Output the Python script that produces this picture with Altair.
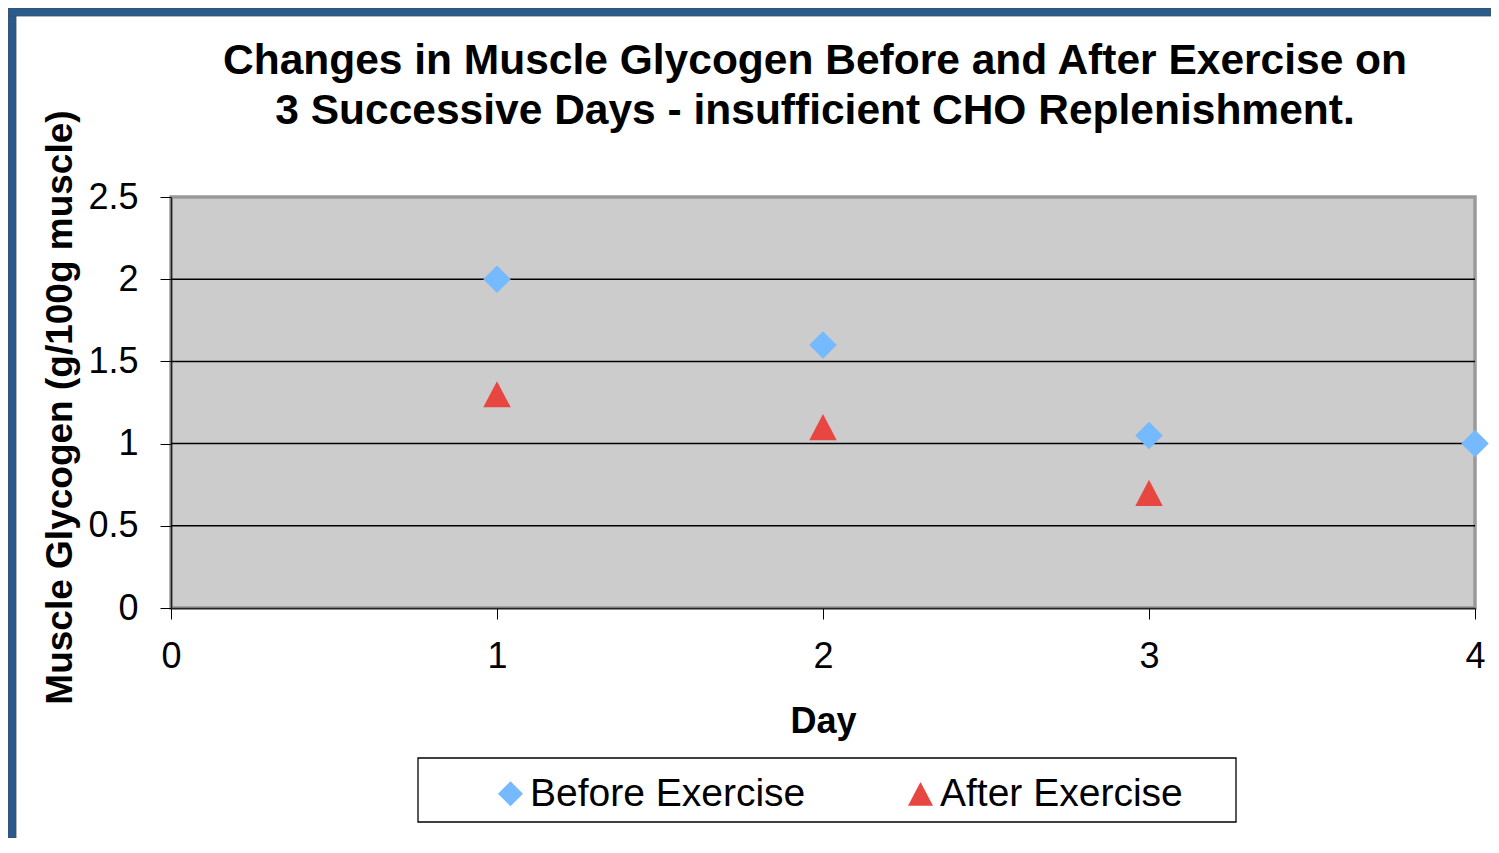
import altair as alt
import pandas as pd

# ---- data ----
days_before = [1, 2, 3, 4]
glycogen_before = [2.0, 1.6, 1.05, 1.0]
days_after = [1, 2, 3]
glycogen_after = [1.3, 1.1, 0.7]
series_names = ["Before Exercise", "After Exercise"]
series_colors = ["#75B9FE", "#E84640"]
x_ticks = [0, 1, 2, 3, 4]
y_ticks = [0, 0.5, 1, 1.5, 2, 2.5]
grid_values = [0.5, 1, 1.5, 2]

title_lines = [
    "Changes in Muscle Glycogen Before and After Exercise on",
    "3 Successive Days - insufficient CHO Replenishment.",
]
x_title = "Day"
y_title = "Muscle Glycogen (g/100g muscle)"

df = pd.DataFrame({
    "Day": days_before + days_after,
    "Glycogen": glycogen_before + glycogen_after,
    "Series": [series_names[0]] * len(days_before) + [series_names[1]] * len(days_after),
})
grid_df = pd.DataFrame({"g": grid_values})
one = pd.DataFrame({"a": [0]})

FONT = "Liberation Sans"
W, H = 1304, 411
PAD_L, PAD_T, PAD_R, PAD_B = 163, 189, 16, 230
TRI = "M0,-0.95L1,0.95L-1,0.95Z"
FRAME = "#2A5B8F"

x_scale = alt.Scale(domain=[0, 4], nice=False, zero=False)
y_scale = alt.Scale(domain=[0, 2.5], nice=False)

common_axis = dict(
    domainColor="#222222", domainWidth=1.5,
    tickColor="black", tickSize=11, tickWidth=1,
    labelFont=FONT, labelFontSize=36, labelColor="black",
    titleFont=FONT, titleFontWeight="bold", titleColor="black",
    grid=False, labelOverlap=False, labelBound=False, labelFlush=False,
)
y_axis = alt.Axis(values=y_ticks, format=".1~f", title=y_title, titleFontSize=37,
                  titleY=210, labelPadding=22, titlePadding=8, **common_axis)
x_axis = alt.Axis(values=x_ticks, format="d", title=x_title, titleFontSize=36,
                  labelPadding=20, titlePadding=30, **common_axis)

legend = alt.Legend(
    title=None, orient="none", legendX=320, legendY=577, direction="horizontal",
    labelFont=FONT, labelFontSize=39, labelColor="black", labelOffset=0,
    symbolSize=625, symbolStrokeWidth=0, columnPadding=95, padding=0,
    labelLimit=0,
)

# decorative frame (blue band at top and left, as on the slide)
frame_left = alt.Chart(one).mark_rect(fill=FRAME, stroke="#4A4A4A", strokeWidth=0.8).encode(
    x=alt.value(-PAD_L), x2=alt.value(-PAD_L + 8), y=alt.value(-PAD_T), y2=alt.value(H + PAD_B)
)
frame_top = alt.Chart(one).mark_rect(fill=FRAME, stroke="#4A4A4A", strokeWidth=0.8).encode(
    x=alt.value(-PAD_L), x2=alt.value(W + PAD_R), y=alt.value(-PAD_T), y2=alt.value(-PAD_T + 8)
)

legend_box = alt.Chart(one).mark_rect(fill="white", stroke="black", strokeWidth=1.3).encode(
    x=alt.value(247), x2=alt.value(1065), y=alt.value(561), y2=alt.value(625)
)

grid = alt.Chart(grid_df).mark_rule(color="black", strokeWidth=1.5).encode(
    y=alt.Y("g:Q", scale=y_scale, axis=y_axis)
)

points = alt.Chart(df).mark_point(filled=True, size=756, opacity=1, strokeWidth=0).encode(
    x=alt.X("Day:Q", scale=x_scale, axis=x_axis),
    y=alt.Y("Glycogen:Q", scale=y_scale, axis=y_axis),
    color=alt.Color("Series:N", scale=alt.Scale(domain=series_names, range=series_colors), legend=legend),
    shape=alt.Shape("Series:N", scale=alt.Scale(domain=series_names, range=["diamond", TRI]), legend=legend),
)

chart = alt.layer(frame_left, frame_top, legend_box, grid, points).properties(
    width=W, height=H,
    background="white",
    autosize=alt.AutoSizeParams(type="none"),
    padding={"left": PAD_L, "top": PAD_T, "right": PAD_R, "bottom": PAD_B},
    title=alt.TitleParams(
        text=title_lines, font=FONT, fontSize=42.5, fontWeight="bold", color="black",
        anchor="middle", dx=-8, dy=135, offset=10, lineHeight=50,
    ),
).configure_view(
    fill="#CCCCCC", stroke="#999999", strokeWidth=3.5
)

chart.save("out.html", embed_options={"renderer": "svg", "actions": False})
